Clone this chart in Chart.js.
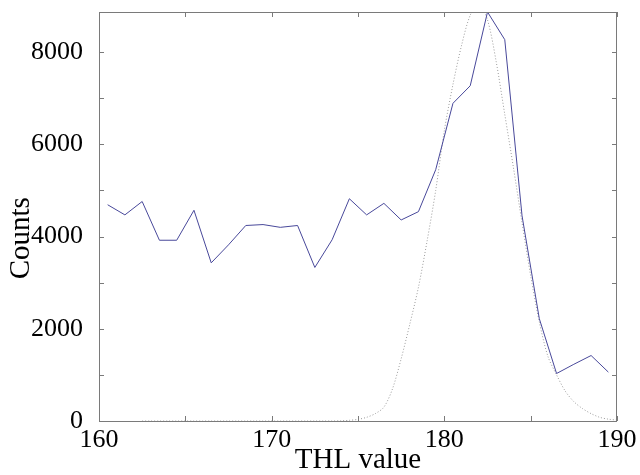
<!DOCTYPE html>
<html>
<head>
<meta charset="utf-8">
<script src="https://cdn.jsdelivr.net/npm/chart.js@4.4.1/dist/chart.umd.min.js"></script>
<style>
  html, body { margin: 0; padding: 0; background: #fff; }
  #wrap { width: 640px; height: 475px; }
</style>
</head>
<body>
<div id="wrap"><canvas id="thlChart" width="640" height="475"></canvas></div>
<script>
// measured counts per THL bin
const thlBins = [160.5, 161.5, 162.5, 163.5, 164.5, 165.5, 166.5, 167.5, 168.5, 169.5,
                 170.5, 171.5, 172.5, 173.5, 174.5, 175.5, 176.5, 177.5, 178.5, 179.5,
                 180.5, 181.5, 182.5, 183.5, 184.5, 185.5, 186.5, 187.5, 188.5, 189.5];
const counts = [4690, 4470, 4760, 3920, 3920, 4570, 3430, 3820, 4240, 4260,
                4200, 4240, 3330, 3930, 4820, 4470, 4720, 4360, 4540, 5450,
                6890, 7270, 8870, 8270, 4450, 2220, 1030, 1230, 1420, 1060];

// fitted curve (dotted)
const fitX = [162.5, 163, 163.5, 164, 164.5, 165, 165.5, 166, 166.5, 167, 167.5, 168,
              168.5, 169, 169.5, 170, 170.5, 171, 171.5, 172, 172.5, 173, 173.5, 174,
              174.5, 175, 175.5, 176, 176.5, 177, 177.5, 178, 178.5, 179, 179.5, 180,
              180.5, 181, 181.5, 182, 182.5, 183, 183.5, 184, 184.5, 185, 185.5, 186,
              186.5, 187, 187.5, 188, 188.5, 189, 189.5, 190];
const fitY = [0, 0, 0, 0, 0, 0, 0, 0, 0, 0, 0, 0,
              0, 0, 0, 0, 0, 0, 0, 0, 0, 0, 0, 5,
              15, 35, 80, 160, 300, 700, 1350, 2100, 2900, 3900, 5000, 6300,
              7300, 8150, 8800, 9050, 8700, 7800, 6650, 5500, 4300, 3150, 2150, 1400,
              1000, 650, 420, 270, 160, 80, 40, 20];

const yLabels = [0, 2000, 4000, 6000, 8000];
const xTickMarks = [160, 165, 170, 175, 180, 185, 190];
const yTickMarks = [0, 1000, 2000, 3000, 4000, 5000, 6000, 7000, 8000];

Chart.defaults.font.family = '"Liberation Serif", "Times New Roman", serif';
Chart.defaults.color = '#000';

// box around the axes plus inward tick marks on all four sides
const frameTicks = {
  id: 'frameTicks',
  afterDatasetsDraw(chart) {
    const { ctx, chartArea: a, scales: { x, y } } = chart;
    ctx.save();
    ctx.strokeStyle = '#7a7a7a';
    ctx.lineWidth = 1;
    ctx.strokeRect(a.left + 0.5, a.top + 0.5, a.right - a.left - 1, a.bottom - a.top);
    ctx.beginPath();
    xTickMarks.forEach(v => {
      const px = Math.round(x.getPixelForValue(v)) + 0.5;
      ctx.moveTo(px, a.bottom);
      ctx.lineTo(px, a.bottom - 5);
      ctx.moveTo(px, a.top);
      ctx.lineTo(px, a.top + 5);
    });
    yTickMarks.forEach(v => {
      const py = Math.round(y.getPixelForValue(v)) + 0.5;
      ctx.moveTo(a.left, py);
      ctx.lineTo(a.left + 5, py);
      ctx.moveTo(a.right, py);
      ctx.lineTo(a.right - 5, py);
    });
    ctx.stroke();
    ctx.restore();
  }
};

const ctx = document.getElementById('thlChart').getContext('2d');
const thlChart = new Chart(ctx, {
  type: 'line',
  data: {
    datasets: [
      {
        label: 'Counts',
        data: thlBins.map((b, i) => ({ x: b, y: counts[i] })),
        borderColor: '#48489a',
        borderWidth: 1,
        pointRadius: 0,
        tension: 0,
      },
      {
        label: 'Fit',
        data: fitX.map((b, i) => ({ x: b, y: fitY[i] })),
        borderColor: '#9a9a9a',
        borderWidth: 1,
        borderDash: [1, 2],
        pointRadius: 0,
        tension: 0.3,
      },
    ],
  },
  options: {
    responsive: false,
    animation: false,
    layout: { padding: { left: 0, right: 23, top: 12, bottom: 0 } },
    plugins: {
      legend: { display: false },
      tooltip: { enabled: false },
    },
    scales: {
      x: {
        type: 'linear',
        min: 160,
        max: 190,
        grid: { display: false },
        border: { display: false },
        ticks: { stepSize: 10, maxRotation: 0, padding: -4, font: { size: 26 } },
        title: {
          display: true,
          text: 'THL value',
          font: { size: 29, lineHeight: 1 },
          padding: 0,
        },
        afterFit(scale) { scale.height = 54; },
      },
      y: {
        min: 0,
        max: 8870,
        grid: { display: false },
        border: { display: false },
        afterBuildTicks(scale) { scale.ticks = yLabels.map(v => ({ value: v })); },
        ticks: { padding: 8, font: { size: 26 }, callback: v => String(v) },
        title: {
          display: true,
          text: 'Counts      ',
          font: { size: 29, lineHeight: 1 },
          padding: { top: 7, bottom: 0 },
        },
        afterFit(scale) {
          scale.width = 99;
          scale.paddingTop = 0;
          scale.paddingBottom = 0;
        },
      },
    },
  },
  plugins: [frameTicks],
});
</script>
</body>
</html>
